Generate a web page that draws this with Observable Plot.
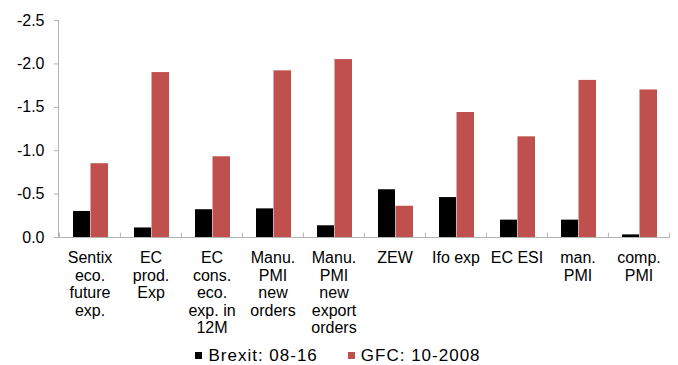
<!DOCTYPE html>
<html>
<head>
<meta charset="utf-8">
<script src="https://cdn.jsdelivr.net/npm/d3@7"></script>
<script src="https://cdn.jsdelivr.net/npm/@observablehq/plot@0.6"></script>
<style>
  html, body { margin: 0; padding: 0; background: #fff; overflow: hidden; }
  body { width: 678px; font-family: "Liberation Sans", Arial, sans-serif; }
  #legend { display: flex; justify-content: center; align-items: center; gap: 30px;
            height: 25px; padding-top: 3px; padding-right: 2px; font-size: 17px; letter-spacing: 1px; color: #000; }
  #legend .item { display: flex; align-items: center; gap: 6px; }
  #legend .sw { width: 7px; height: 7px; display: inline-block; }
</style>
</head>
<body>
<div id="chart"></div>
<div id="legend"></div>
<script>
// Survey indicators: change in the release after each shock
const categories = [
  "Sentix eco. future exp.", "EC prod. Exp", "EC cons. eco. exp. in 12M",
  "Manu. PMI new orders", "Manu. PMI new export orders", "ZEW",
  "Ifo exp", "EC ESI", "man. PMI", "comp. PMI"
];
const tickLabels = [
  "Sentix\neco.\nfuture\nexp.", "EC\nprod.\nExp", "EC\ncons.\neco.\nexp. in\n12M",
  "Manu.\nPMI\nnew\norders", "Manu.\nPMI\nnew\nexport\norders", "ZEW",
  "Ifo exp", "EC ESI", "man.\nPMI", "comp.\nPMI"
];
const brexit = [-0.30, -0.11, -0.32, -0.33, -0.135, -0.55, -0.46, -0.20, -0.20, -0.03];
const gfc    = [-0.85, -1.90, -0.93, -1.92, -2.05, -0.36, -1.44, -1.16, -1.81, -1.70];
const seriesNames = ["Brexit: 08-16", "GFC: 10-2008"];
const seriesColors = ["#000000", "#c0504d"];
const yTicks = [-2.5, -2.0, -1.5, -1.0, -0.5, 0];

const brexitRows = categories.map((c, i) => ({category: c, value: brexit[i]}));
const gfcRows = categories.map((c, i) => ({category: c, value: gfc[i]}));

const axisGray = "#b3b3b3";
const halfBand = (678 - 58 - 8) / categories.length / 2;

const chart = Plot.plot({
  width: 678,
  height: 340,
  marginLeft: 58,
  marginRight: 8,
  marginTop: 20,
  marginBottom: 103,
  style: {fontFamily: "'Liberation Sans', Arial, sans-serif", fontSize: "16px", color: "#000", background: "#fff"},
  x: {domain: categories, padding: 0, axis: null, label: null},
  y: {domain: [0, -2.5], axis: null, label: null},
  marks: [
    Plot.barY(brexitRows, {x: "category", y: "value", fill: seriesColors[0], insetLeft: 14, insetRight: 30}),
    Plot.barY(gfcRows, {x: "category", y: "value", fill: seriesColors[1], insetLeft: 31.5, insetRight: 12}),
    Plot.ruleY([0], {stroke: axisGray}),
    Plot.frame({anchor: "left", stroke: axisGray}),
    // small ticks between category groups on the baseline
    Plot.ruleX(categories, {x: d => d, dx: -halfBand, y1: 0, y2: -0.05, stroke: axisGray}),
    Plot.ruleX(categories.slice(-1), {x: d => d, dx: halfBand, y1: 0, y2: -0.05, stroke: axisGray}),
    Plot.axisY({ticks: yTicks, label: null, tickSize: 4, tickPadding: 10, stroke: axisGray,
      tickFormat: d => d.toFixed(1), style: {letterSpacing: "0.3px"}}),
    Plot.axisX({label: null, tickSize: 0, tickPadding: 13, lineHeight: 1.1,
      tickFormat: d => tickLabels[categories.indexOf(d)], style: {letterSpacing: "0.3px"}})
  ]
});
document.getElementById("chart").append(chart);

const legend = document.getElementById("legend");
seriesNames.forEach((name, i) => {
  const item = document.createElement("span");
  item.className = "item";
  const sw = document.createElement("span");
  sw.className = "sw";
  sw.style.background = seriesColors[i];
  const label = document.createElement("span");
  label.textContent = name;
  item.append(sw, label);
  legend.append(item);
});
</script>
</body>
</html>
